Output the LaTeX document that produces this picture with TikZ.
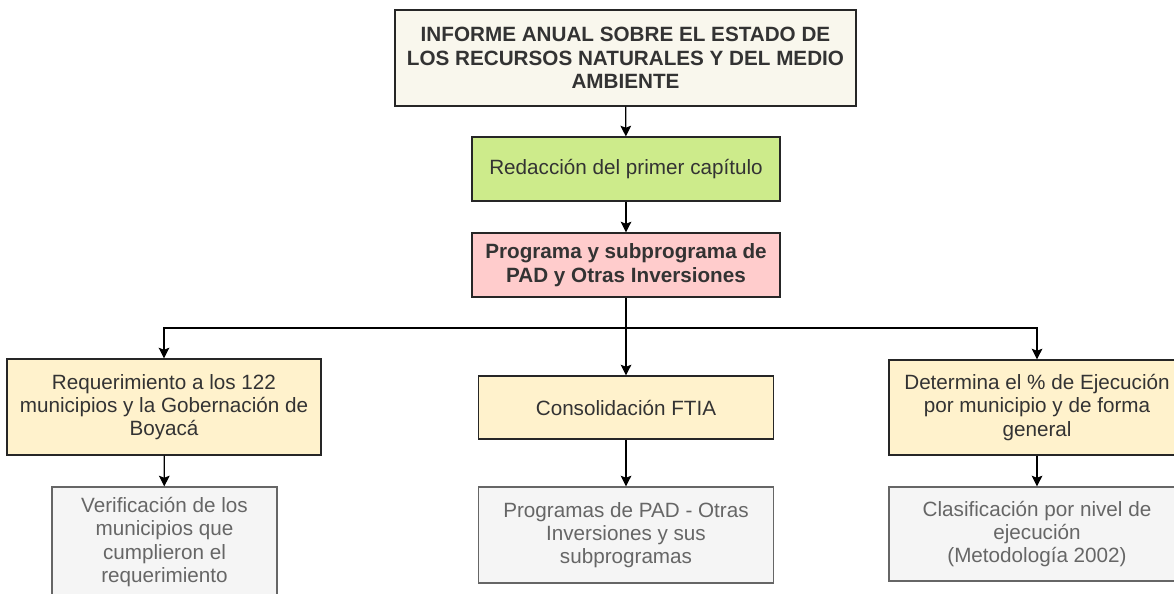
\documentclass[tikz,border=0pt]{standalone}
\usepackage{fontspec}
\setmainfont{Liberation Sans}
\usetikzlibrary{arrows.meta}

\definecolor{beige}{HTML}{F9F7ED}
\definecolor{verde}{HTML}{CDEB8B}
\definecolor{rosa}{HTML}{FFCCCC}
\definecolor{amarillo}{HTML}{FFF2CC}
\definecolor{gris}{HTML}{F5F5F5}

\begin{document}
\begin{tikzpicture}[x=0.75pt,y=-0.75pt,
	caja/.style={draw=black!85, line width=0.9pt, align=center, inner sep=0pt,
		font=\fontsize{15.5}{17.5}\selectfont, text=black!80},
	cajagris/.style={caja, draw=black!60, fill=gris, text=black!60},
	flecha/.style={-{Stealth[length=8pt,width=8pt,inset=1.5pt]}, line width=0.9pt}]
	\useasboundingbox (0,0) rectangle (1174,593);

	\node[caja, fill=beige, font=\fontsize{15.5}{17.5}\selectfont\bfseries, minimum width=345.75pt, minimum height=72pt] (informe) at (625.5,58)
	{INFORME ANUAL SOBRE EL ESTADO DE\\LOS RECURSOS NATURALES Y DEL MEDIO\\AMBIENTE};
	\node[caja, fill=verde, minimum width=231pt, minimum height=48pt] (redaccion) at (626,169)
	{Redacción del primer capítulo};
	\node[caja, fill=rosa, font=\fontsize{15.5}{17.5}\selectfont\bfseries, minimum width=231pt, minimum height=48pt] (programa) at (626,265)
	{Programa y subprograma de\\PAD y Otras Inversiones};

	\node[caja, fill=amarillo, minimum width=235.5pt, minimum height=72pt] (req) at (164,407)
	{Requerimiento a los 122\\municipios y la Gobernación de\\Boyacá};
	\node[caja, fill=amarillo, minimum width=221.25pt, minimum height=47.25pt] (cons) at (626,407.5)
	{Consolidación FTIA};
	\node[caja, fill=amarillo, minimum width=222pt, minimum height=71.25pt] (det) at (1037,407.5)
	{Determina el \% de Ejecución\\por municipio y de forma\\general};

	\node[cajagris, minimum width=168.75pt, minimum height=82.5pt] (verif) at (164.5,542)
	{Verificación de los\\municipios que\\cumplieron el\\requerimiento};
	\node[cajagris, minimum width=221.25pt, minimum height=72pt] (prog) at (626,535)
	{Programas de PAD - Otras\\Inversiones y sus\\subprogramas};
	\node[cajagris, minimum width=222pt, minimum height=70.5pt] (clas) at (1037,534)
	{Clasificación por nivel de\\ejecución\\(Metodología 2002)};

	\coordinate (rama) at (626,328);

	\draw[flecha] (informe) -- (redaccion);
	\draw[flecha] (redaccion) -- (programa);
	\draw[line width=0.9pt] (programa) -- (rama);
	\draw[flecha] (rama) -| (req);
	\draw[flecha] (rama) -- (cons);
	\draw[flecha] (rama) -| (det);
	\draw[flecha] (req) -- (verif);
	\draw[flecha] (cons) -- (prog);
	\draw[flecha] (det) -- (clas);
\end{tikzpicture}
\end{document}
